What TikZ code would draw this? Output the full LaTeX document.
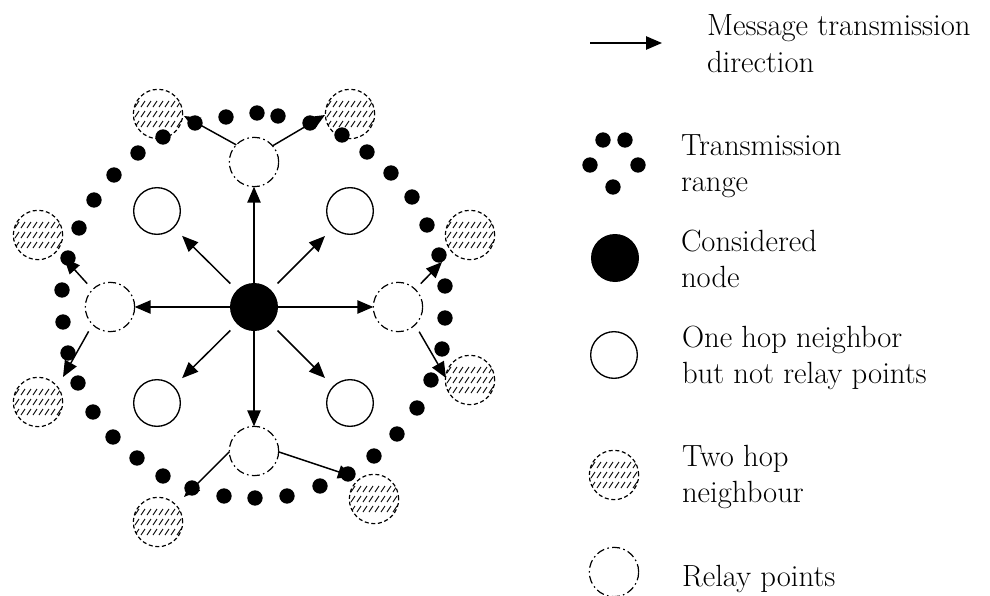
\documentclass[tikz,border=0pt]{standalone}
\usepackage{fontspec}
\usetikzlibrary{arrows.meta}
\begin{document}
\begin{tikzpicture}[x=0.75pt,y=-0.75pt,
  every node/.style={inner sep=0pt,outer sep=0pt},
  centre/.style={circle,fill=black,minimum size=36pt},
  onehop/.style={circle,draw,line width=1pt,minimum size=35pt},
  relay/.style={circle,draw,line width=0.9pt,
    dash pattern=on 6pt off 2.5pt on 1.2pt off 2.5pt,minimum size=37pt},
  twohop/.style={circle,draw,line width=0.9pt,dash pattern=on 3pt off 2pt,
    minimum size=37pt,
    path picture={
      \foreach \r in {-10,0,10}
        \foreach \c in {-21,-15,...,21}
          \draw[solid,line width=0.7pt]
            ([shift={(\c-2,\r+3)}]path picture bounding box.center) -- ++(4,-6);
    }},
  rangedot/.style={circle,fill=black,minimum size=11.5pt},
  msg/.style={line width=1.1pt,-{Triangle[length=12pt,width=10pt]}},
  legtext/.style={anchor=base west,
    font=\fontsize{23}{28}\selectfont\addfontfeatures{LetterSpace=4}}
]
\useasboundingbox (0,0) rectangle (990,596);

% considered node, one hop neighbours and relay points
\node[centre] (c) at (254,307) {};
\node[onehop] (oTL) at (157,211) {};
\node[onehop] (oTR) at (350,211) {};
\node[onehop] (oBL) at (157,403) {};
\node[onehop] (oBR) at (350,403) {};
\node[relay] (rT) at (254,162) {};
\node[relay] (rL) at (110,307) {};
\node[relay] (rR) at (398,307) {};
\node[relay] (rB) at (254,451) {};

% two hop neighbours
\node[twohop] (hTL) at (158,114) {};
\node[twohop] (hTR) at (350,114) {};
\node[twohop] (hUL) at (38,235) {};
\node[twohop] (hLL) at (38,402) {};
\node[twohop] (hUR) at (470,235) {};
\node[twohop] (hLR) at (470,380) {};
\node[twohop] (hBL) at (158,522) {};
\node[twohop] (hBR) at (374,499) {};

% transmission range
\foreach \p [count=\i] in {(195,123),(226,117),(257,113),(278,116),(310,123),
    (342,135),(367,152),(391,173),(412,197),(427,225),(439,255),
    (445,286),(445,318),(442,349),(431,380),(417,408),(397,434),(374,456),(348,474),
    (320,486),(287,496),(255,498),(224,496),(192,488),(163,476),(137,458),
    (113,437),(93,412),(78,383),(68,353),(63,322),(62,290),(68,258),(79,228),
    (94,200),(114,175),(138,153),(163,137)}
  \node[rangedot] (d\i) at \p {};

% message flow from the considered node
\draw[msg] (c) -- (rT);
\draw[msg] (c) -- (rL);
\draw[msg] (c) -- (rR);
\draw[msg] (c) -- (rB);
\draw[msg,shorten <=7pt,shorten >=9pt] (c) -- (oTL);
\draw[msg,shorten <=7pt,shorten >=9pt] (c) -- (oTR);
\draw[msg,shorten <=7pt,shorten >=9pt] (c) -- (oBL);
\draw[msg,shorten <=7pt,shorten >=9pt] (c) -- (oBR);

% relayed messages towards the two hop neighbours
\coordinate (t1) at (184,116);
\coordinate (t2) at (325,115);
\coordinate (t3) at (64,258);
\coordinate (t4) at (63,377);
\coordinate (t5) at (442,262);
\coordinate (t6) at (446,378);
\coordinate (t7) at (184,497);
\coordinate (t8) at (354,477);
\draw[msg] (rT.136) -- (t1);
\draw[msg] (rT.41) -- (t2);
\draw[msg,shorten <=6pt] (rL.135) -- (t3);
\draw[msg,shorten <=6pt] (rL.225) -- (t4);
\draw[msg,shorten <=6pt] (rR.46) -- (t5);
\draw[msg,shorten <=6pt] (rR.-46) -- (t6);
\draw[msg] (rB.182) -- (t7);
\draw[msg] (rB.-2) -- (t8);

% legend
\coordinate (la1) at (590,43);
\coordinate (la2) at (662,43);
\draw[msg] (la1) -- (la2);
\node[legtext] (m1) at (707,36) {Message transmission};
\node[legtext] (m2) at (707,72) {direction};

\foreach \p [count=\i] in {(603,140),(625,140),(590,165),(638,165),(613,187)}
  \node[rangedot] (ld\i) at \p {};
\node[legtext] (tr1) at (681,155) {Transmission};
\node[legtext] (tr2) at (681,191) {range};

\node[centre] (lc) at (615,258) {};
\node[legtext] (cn1) at (681,251) {Considered};
\node[legtext] (cn2) at (681,287) {node};

\node[onehop] (lo) at (614,355) {};
\node[legtext] (oh1) at (682,347) {One hop neighbor};
\node[legtext] (oh2) at (682,383) {but not relay points};

\node[twohop] (lh) at (614,475) {};
\node[legtext] (th1) at (682,466) {Two hop};
\node[legtext] (th2) at (682,502) {neighbour};

\node[relay] (lr) at (614,572) {};
\node[legtext] (rp) at (682,586) {Relay points};
\end{tikzpicture}
\end{document}
